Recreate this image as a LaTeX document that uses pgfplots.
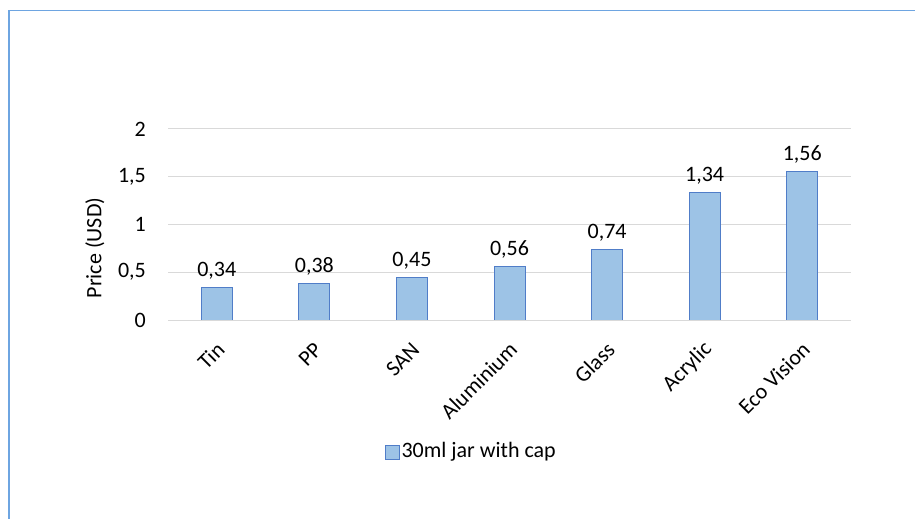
\documentclass[border=0pt]{standalone}
\usepackage{pgfplots}
\pgfplotsset{compat=1.18}
\usepackage{fontspec}
\setmainfont{Carlito}
\definecolor{barfill}{RGB}{157,195,230}
\definecolor{bardraw}{RGB}{80,125,200}
\definecolor{gridc}{RGB}{217,217,217}
\definecolor{framec}{RGB}{110,165,225}
\begin{document}
\fontsize{22bp}{26bp}\selectfont
\begin{tikzpicture}
\useasboundingbox (0,0) rectangle (915bp,519bp);
\draw[framec, line width=1.6bp] (9bp,0) -- (9bp,508.5bp) -- (915bp,508.5bp);
\begin{axis}[
  at={(168bp,199bp)}, anchor=south west,
  scale only axis, width=683bp, height=191bp,
  xmin=-0.5, xmax=6.5, ymin=0, ymax=2,
  ytick={0,0.5,1,1.5,2},
  xtick={0,1,2,3,4,5,6},
  xticklabels={Tin,PP,SAN,Aluminium,Glass,Acrylic,Eco Vision},
  /pgf/number format/.cd, use comma, assume math mode=true, /pgfplots/.cd,
  axis line style={draw=none},
  major tick length=0pt,
  ymajorgrids, grid style={gridc, line width=1bp},
  yticklabel style={anchor=east, inner sep=0pt, xshift=-22bp},
  xticklabel style={inner sep=0pt, xshift=4bp, yshift=-26bp, rotate=45, anchor=east},
  ylabel={Price (USD)},
  ylabel style={at={(axis description cs:-0.107,0.377)}, anchor=center},
  ybar, bar width=31bp,
  nodes near coords,
  every node near coord/.append style={anchor=base, inner sep=0pt, yshift=11bp},
  legend style={at={(axis description cs:0.444,-0.691)}, anchor=center, draw=none, fill=none},
  legend image code/.code={\draw[#1] (0bp,-7bp) rectangle (14bp,7bp);},
]
\addplot[fill=barfill, draw=bardraw, line width=0.8bp] coordinates {
  (0,0.34) (1,0.38) (2,0.45) (3,0.56) (4,0.74) (5,1.34) (6,1.56)
};
\addlegendentry{30ml jar with cap}
\end{axis}
\end{tikzpicture}
\end{document}
